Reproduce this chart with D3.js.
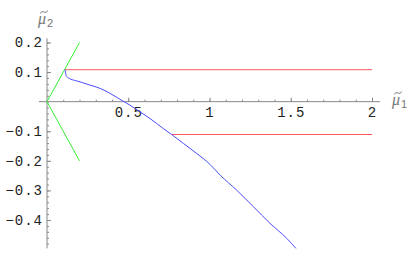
<!DOCTYPE html>
<html lang="en">
<head>
    <meta charset="UTF-8">
    <title>mu1 vs mu2</title>
    <script src="https://d3js.org/d3.v7.min.js"></script>
    <style>
        body { margin: 0; padding: 0; background: #fff; overflow: hidden; }
        svg { display: block; }
        .tick text { font-family: "Liberation Mono", monospace; font-size: 14px; fill: #222; letter-spacing: 1px; }
        .lbl { font-family: "Liberation Serif", serif; font-style: italic; font-size: 16px; fill: #777; }
    </style>
</head>
<body>
    <svg id="chart"></svg>
    <script>
        // values
        const xMajor = [0.5, 1, 1.5, 2];
        const yMajor = [0.2, 0.1, -0.1, -0.2, -0.3, -0.4];

        // green wedge: y = x and y = -x
        const greenUp = [[0, 0], [0.2, 0.2]];
        const greenDown = [[0, 0], [0.2, -0.2]];

        // red horizontal lines
        const redTop = [[0.11, 0.108], [2, 0.108]];
        const redBottom = [[0.767, -0.111], [2, -0.111]];

        // blue curve
        const blueX = [0.111, 0.113, 0.117, 0.125, 0.142, 0.17, 0.203, 0.265, 0.326, 0.388, 0.449, 0.511, 0.572, 0.634,
                       0.716, 0.767, 0.839, 0.921, 1.003, 1.065, 1.167, 1.270, 1.372, 1.475, 1.532];
        const blueY = [0.108, 0.1, 0.09, 0.083, 0.077, 0.072, 0.067, 0.056, 0.045, 0.028, 0.008, -0.012, -0.034, -0.057,
                       -0.091, -0.111, -0.141, -0.175, -0.212, -0.248, -0.299, -0.355, -0.411, -0.462, -0.496];

        const width = 416, height = 257;
        const svg = d3.select("#chart").attr("width", width).attr("height", height);

        const x = d3.scaleLinear().domain([0, 2]).range([47, 372]);
        const y = d3.scaleLinear().domain([-0.4, 0.2]).range([220, 42.5]);

        const axisColor = "#888";

        // x axis: minor ticks then major ticks, ticks pointing up
        const gx = svg.append("g").attr("transform", `translate(0,${y(0)})`);
        gx.append("g")
            .call(d3.axisBottom(x).tickValues(d3.range(1, 21).map(i => i / 10)).tickSize(-2).tickFormat(""))
            .call(g => g.select(".domain").remove());
        gx.append("g")
            .call(d3.axisBottom(x).tickValues(xMajor).tickSize(-4).tickPadding(5).tickFormat(d3.format("")))
            .call(g => g.select(".domain").remove());
        gx.append("line")
            .attr("x1", x(-0.05)).attr("x2", x(2.05));
        gx.selectAll("line").attr("stroke", axisColor);

        // y axis: ticks pointing right
        const gy = svg.append("g").attr("transform", `translate(${x(0)},0)`);
        gy.append("g")
            .call(d3.axisLeft(y).tickValues(d3.range(-24, 11).map(i => i / 50)).tickSize(-2).tickFormat(""))
            .call(g => g.select(".domain").remove());
        gy.append("g")
            .call(d3.axisLeft(y).tickValues(yMajor).tickSize(-4).tickPadding(4)
                .tickFormat(d => d3.format(".1f")(d).replace("-", "\u2212")))
            .call(g => g.select(".domain").remove());
        gy.append("line")
            .attr("y1", y(0.214)).attr("y2", y(-0.496));
        gy.selectAll("line").attr("stroke", axisColor);

        const line = d3.line().x(d => x(d[0])).y(d => y(d[1]));
        const curve = d3.line().x(d => x(d[0])).y(d => y(d[1])).curve(d3.curveMonotoneX);

        svg.append("path").datum(greenUp).attr("d", line).attr("fill", "none").attr("stroke", "#33ee33");
        svg.append("path").datum(greenDown).attr("d", line).attr("fill", "none").attr("stroke", "#33ee33");
        svg.append("path").datum(redTop).attr("d", line).attr("fill", "none").attr("stroke", "#ff5a5a");
        svg.append("path").datum(redBottom).attr("d", line).attr("fill", "none").attr("stroke", "#ff5a5a");
        svg.append("path").datum(blueX.map((v, i) => [v, blueY[i]]))
            .attr("d", curve).attr("fill", "none").attr("stroke", "#4d4dff");

        // axis labels: mu with a drawn tilde on top and a subscript
        function muLabel(px, py, sub) {
            const t = svg.append("text").attr("class", "lbl").attr("x", px).attr("y", py);
            t.append("tspan").text("\u03bc");
            t.append("tspan").attr("font-style", "normal").attr("font-family", "Liberation Sans")
                .attr("font-size", 11).attr("dx", 1).attr("dy", 3).text(sub);
            const tx = px + 2, ty = py - 12;
            svg.append("path")
                .attr("d", `M${tx},${ty + 1.5} Q${tx + 2},${ty - 1.5} ${tx + 4},${ty} T${tx + 8},${ty - 1.5}`)
                .attr("fill", "none").attr("stroke", "#777").attr("stroke-width", 0.9);
        }
        muLabel(38, 24, "2");
        muLabel(392, 105, "1");
    </script>
</body>
</html>
